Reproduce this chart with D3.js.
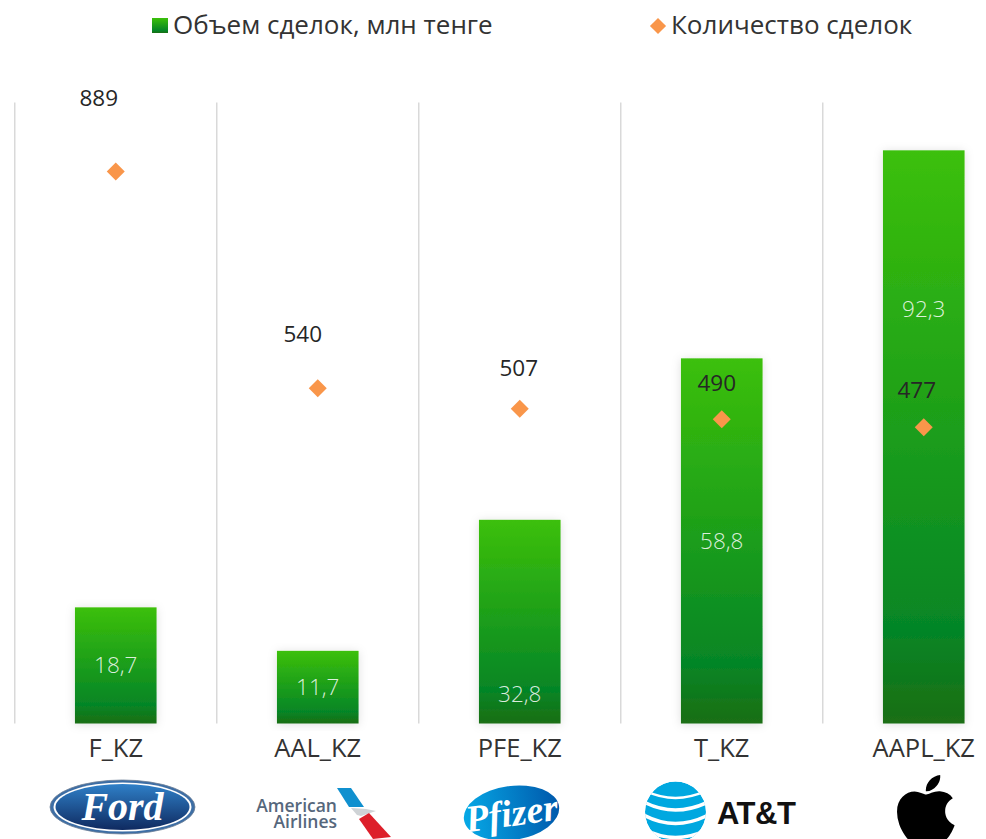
<!DOCTYPE html>
<html>
<head>
<meta charset="UTF-8">
<title></title>
<script src="https://d3js.org/d3.v7.min.js"></script>
<style>
  html, body { margin: 0; padding: 0; background: #fff; }
  svg { display: block; }
  text { font-family: "Open Sans", "Noto Sans", sans-serif; }
</style>
</head>
<body>
<div id="chart"></div>
<script>
const tickers = ["F_KZ", "AAL_KZ", "PFE_KZ", "T_KZ", "AAPL_KZ"];
const volumes = [18.7, 11.7, 32.8, 58.8, 92.3];
const dealCounts = [889, 540, 507, 490, 477];
const legendNames = ["Объем сделок, млн тенге", "Количество сделок"];

const width = 986, height = 839;
const svg = d3.select("#chart").append("svg").attr("width", width).attr("height", height);
const defs = svg.append("defs");

// bars and deals share the plot, deals run on a 10x scale
const x = d3.scaleBand().domain(tickers).range([14.75, 1024.75]);
const yVol = d3.scaleLinear().domain([0, 100]).range([723.5, 102.5]);
const yDeals = d3.scaleLinear().domain([0, 1000]).range([723.5, 102.5]);
const barWidth = x.bandwidth() * 0.404;
const cx = t => x(t) + x.bandwidth() / 2;

const fmt = v => d3.format(".1f")(v).replace(".", ",");

// label nudges, the source places these by hand
const volY = { PFE_KZ: 694, AAPL_KZ: 309 };
const dealShift = {
  F_KZ: [-17, -73], AAL_KZ: [-15, -54], PFE_KZ: [-1, -41], T_KZ: [-5, -36], AAPL_KZ: [-7, -37]
};

const grad = defs.append("linearGradient").attr("id", "barGrad")
  .attr("x1", 0).attr("y1", 0).attr("x2", 0).attr("y2", 1);
grad.append("stop").attr("offset", "0%").attr("stop-color", "#3cc00a");
grad.append("stop").attr("offset", "84%").attr("stop-color", "#058526");
grad.append("stop").attr("offset", "100%").attr("stop-color", "#1b6e12");

const shadow = defs.append("filter").attr("id", "barShadow")
  .attr("x", "-30%").attr("y", "-10%").attr("width", "160%").attr("height", "120%");
shadow.append("feDropShadow").attr("dx", 0).attr("dy", 1).attr("stdDeviation", 5)
  .attr("flood-color", "#000").attr("flood-opacity", 0.13);

// gridlines at the band edges
svg.append("g").selectAll("line").data(tickers).join("line")
  .attr("x1", d => x(d)).attr("x2", d => x(d))
  .attr("y1", yVol(100)).attr("y2", yVol(0))
  .attr("stroke", "#d9d9d9").attr("stroke-width", 1.5);

svg.append("g").selectAll("rect").data(tickers).join("rect")
  .attr("x", d => cx(d) - barWidth / 2)
  .attr("width", barWidth)
  .attr("y", (d, i) => yVol(volumes[i]))
  .attr("height", (d, i) => yVol(0) - yVol(volumes[i]))
  .attr("fill", "url(#barGrad)")
  .attr("filter", "url(#barShadow)");

svg.append("g").selectAll("text").data(tickers).join("text")
  .attr("x", cx)
  .attr("y", (d, i) => volY[d] !== undefined ? volY[d] : (yVol(volumes[i]) + yVol(0)) / 2)
  .attr("dy", "0.35em")
  .attr("text-anchor", "middle")
  .attr("font-size", 22.5).attr("font-weight", 300)
  .attr("fill", "#fff").attr("fill-opacity", 0.85)
  .text((d, i) => fmt(volumes[i]));

const diamond = d3.symbol().type(d3.symbolSquare).size(162);
svg.append("g").selectAll("path").data(tickers).join("path")
  .attr("d", diamond)
  .attr("transform", (d, i) => `translate(${cx(d)},${yDeals(dealCounts[i])}) rotate(45)`)
  .attr("fill", "#f9964a");

svg.append("g").selectAll("text").data(tickers).join("text")
  .attr("x", d => cx(d) + dealShift[d][0])
  .attr("y", (d, i) => yDeals(dealCounts[i]) + dealShift[d][1])
  .attr("dy", "0.35em")
  .attr("text-anchor", "middle")
  .attr("font-size", 22.5)
  .attr("fill", "#262626")
  .text((d, i) => dealCounts[i]);

const xAxis = d3.axisBottom(x).tickSize(0).tickPadding(0);
const gX = svg.append("g").attr("transform", "translate(0,739)").call(xAxis);
gX.select(".domain").remove();
gX.selectAll("text").attr("font-size", 25.5).attr("fill", "#333")
  .style("font-family", '"Open Sans", sans-serif');

// legend
svg.append("rect").attr("x", 152).attr("y", 18).attr("width", 16).attr("height", 15)
  .attr("fill", "url(#barGrad)");
svg.append("text").attr("x", 173).attr("y", 25).attr("dy", "0.35em")
  .attr("font-size", 26).attr("fill", "#333").text(legendNames[0]);
svg.append("path").attr("d", d3.symbol().type(d3.symbolSquare).size(130))
  .attr("transform", "translate(658,26) rotate(45)").attr("fill", "#f9964a");
svg.append("text").attr("x", 671).attr("y", 25).attr("dy", "0.35em")
  .attr("font-size", 26).attr("fill", "#333").text(legendNames[1]);

// logos under the axis
const logos = svg.append("g");

// Ford
const fordGrad = defs.append("linearGradient").attr("id", "fordGrad")
  .attr("x1", 0).attr("y1", 0).attr("x2", 0).attr("y2", 1);
fordGrad.append("stop").attr("offset", "0%").attr("stop-color", "#2f80c8");
fordGrad.append("stop").attr("offset", "100%").attr("stop-color", "#0f2a60");
const ford = logos.append("g").attr("transform", "translate(122.5,807)");
ford.append("ellipse").attr("rx", 72.5).attr("ry", 27).attr("fill", "#3d6ea5").attr("stroke", "#6d7f96").attr("stroke-width", 0.8);
ford.append("ellipse").attr("rx", 69).attr("ry", 24.5).attr("fill", "#fff");
ford.append("ellipse").attr("rx", 67).attr("ry", 23).attr("fill", "url(#fordGrad)");
ford.append("text").attr("y", 13).attr("text-anchor", "middle")
  .style("font-family", '"Liberation Serif", serif').attr("font-style", "italic").attr("font-weight", 700)
  .attr("font-size", 40).attr("fill", "#fff").text("Ford");

// American Airlines
const aa = logos.append("g");
aa.selectAll("text").data(["American", "Airlines"]).join("text")
  .attr("x", 337).attr("y", (d, i) => 812 + i * 16)
  .attr("text-anchor", "end").attr("font-size", 17.5).attr("font-weight", 600)
  .attr("fill", "#56677c").text(d => d);
aa.append("path").attr("d", "M337,788L351,788L364,807L349,807Z").attr("fill", "#1090cf");
aa.append("path").attr("d", "M351,808L366,809L376,811L361,816L357,815Z").attr("fill", "#cfd3d6");
aa.append("path").attr("d", "M359,819L369,813L391,837L373,839Z").attr("fill", "#dd1f2a");

// Pfizer
const pfGrad = defs.append("linearGradient").attr("id", "pfGrad");
pfGrad.append("stop").attr("offset", "0%").attr("stop-color", "#06a9e6");
pfGrad.append("stop").attr("offset", "100%").attr("stop-color", "#0059ac");
const pf = logos.append("g").attr("transform", "translate(511.5,813) rotate(-8)");
pf.append("ellipse").attr("rx", 48).attr("ry", 27).attr("fill", "url(#pfGrad)");
pf.append("text").attr("y", 13).attr("text-anchor", "middle")
  .style("font-family", '"Liberation Serif", serif').attr("font-style", "italic").attr("font-weight", 700)
  .attr("font-size", 38).attr("fill", "#fff").text("Pfizer");

// AT&T globe
defs.append("clipPath").attr("id", "globeClip").append("circle").attr("cx", 675.5).attr("cy", 812).attr("r", 30.5);
const globe = logos.append("g").attr("clip-path", "url(#globeClip)");
globe.append("circle").attr("cx", 675.5).attr("cy", 812).attr("r", 30.5).attr("fill", "#00a8e0");
["M640,788Q675,808 712,788", "M640,800Q675,820 712,800", "M640,813Q675,834 712,813", "M640,827Q675,848 712,827"]
  .forEach((d, i) => globe.append("path").attr("d", d).attr("fill", "none")
    .attr("stroke", "#fff").attr("stroke-width", i === 0 ? 2.5 : 3.5));
logos.append("text").attr("x", 717).attr("y", 824)
  .style("font-family", '"Liberation Sans", sans-serif').attr("font-weight", 700)
  .attr("font-size", 31).attr("letter-spacing", -0.5).attr("fill", "#111").text("AT&T");

// Apple
logos.append("path")
  .attr("transform", "translate(896.4,770) scale(0.153)")
  .attr("d", "M318.7 268.7c-.2-36.7 16.4-64.4 50-84.8-18.8-26.9-47.2-41.7-84.7-44.6-35.5-2.8-74.3 20.7-88.5 20.7-15 0-49.4-19.7-76.4-19.7C63.3 141.2 4 184.8 4 273.5q0 39.3 14.4 81.2c12.8 36.7 59 126.7 107.2 125.2 25.2-.6 43-17.9 75.8-17.9 31.8 0 48.3 17.9 76.4 17.9 48.6-.7 90.4-82.5 102.6-119.3-65.2-30.7-61.7-90-61.7-91.9zm-56.6-164.2c27.3-32.4 24.8-61.9 24-72.5-24.1 1.4-52 16.4-67.9 34.9-17.5 19.8-27.8 44.3-25.6 71.9 26.1 2 49.9-11.4 69.5-34.3z")
  .attr("fill", "#000");
</script>
</body>
</html>
